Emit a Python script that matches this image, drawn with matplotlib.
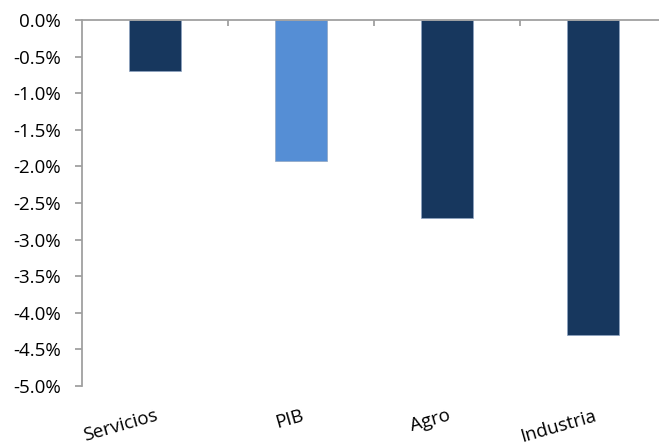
import matplotlib
matplotlib.use("Agg")
import matplotlib.pyplot as plt
from matplotlib.ticker import FuncFormatter, MultipleLocator, FixedLocator

categories = ["Servicios", "PIB", "Agro", "Industria"]
values = [-0.70, -1.93, -2.70, -4.30]
colors = ["#17375E", "#558ED5", "#17375E", "#17375E"]

plt.rcParams['font.family'] = ['Open Sans', 'DejaVu Sans']

fig = plt.figure(figsize=(6.59, 4.46), dpi=100)
ax = fig.add_axes([82/659, 1-386/446, 1-82/659, (386-20)/446])

x = list(range(len(categories)))
ax.bar(x, values, width=0.36, color=colors, edgecolor="#8EA4C2", linewidth=0.5, zorder=2)

ax.set_ylim(-5.0, 0.0)
ax.set_xlim(-0.5, 3.452)
ax.yaxis.set_major_locator(MultipleLocator(0.5))
ax.yaxis.set_major_formatter(FuncFormatter(lambda v, p: f"{v:.1f}%" if abs(v) > 1e-9 else "0.0%"))

for s in ["right", "bottom"]:
    ax.spines[s].set_visible(False)
for s in ["left", "top"]:
    ax.spines[s].set_color("#A0A0A0")
    ax.spines[s].set_linewidth(1.3)

ax.set_xticks(x)
ax.set_xticklabels(categories, rotation=16, ha="right", rotation_mode="anchor", fontsize=13.5)
ax.tick_params(axis="x", which="major", length=0, pad=15)
ax.xaxis.set_minor_locator(FixedLocator([0.5, 1.5, 2.5]))
ax.tick_params(axis="x", which="minor", bottom=False, top=True, direction="in", length=4, color="#A0A0A0", width=1.3)
ax.tick_params(axis="y", length=5, color="#A0A0A0", width=1.3, pad=10, labelsize=13.5)

fig.savefig("out.png", dpi=100)
